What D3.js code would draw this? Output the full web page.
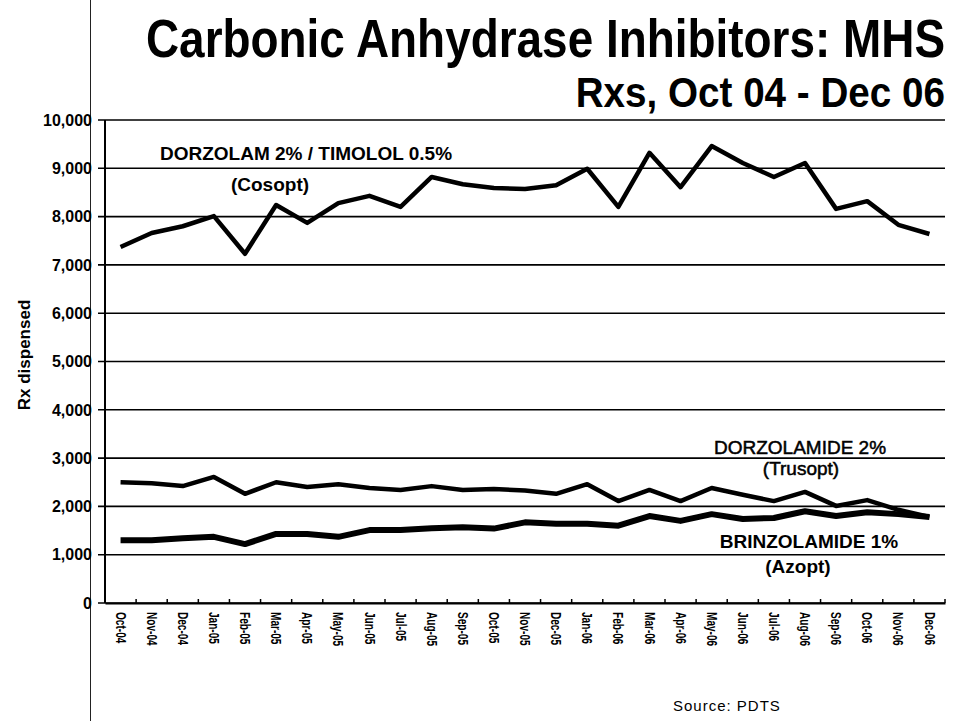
<!doctype html>
<html>
<head>
<meta charset="utf-8">
<script src="https://d3js.org/d3.v7.min.js"></script>
<style>
  body { margin: 0; background: #fff; }
  svg { display: block; font-family: "Liberation Sans", Arial, sans-serif; }
</style>
</head>
<body>
<svg id="chart"></svg>
<script>
    // months on the x axis
    var months = ["Oct-04", "Nov-04", "Dec-04", "Jan-05", "Feb-05", "Mar-05", "Apr-05", "May-05", "Jun-05",
        "Jul-05", "Aug-05", "Sep-05", "Oct-05", "Nov-05", "Dec-05", "Jan-06", "Feb-06", "Mar-06",
        "Apr-06", "May-06", "Jun-06", "Jul-06", "Aug-06", "Sep-06", "Oct-06", "Nov-06", "Dec-06"];

    // Rx dispensed per month
    var cosopt = [7370, 7660, 7800, 8010, 7230, 8240, 7870, 8280, 8430, 8200, 8820, 8670, 8590, 8570,
        8650, 8990, 8200, 9320, 8610, 9460, 9110, 8820, 9110, 8160, 8320, 7830, 7640];
    var trusopt = [2500, 2480, 2420, 2610, 2260, 2500, 2400, 2460, 2380, 2340, 2420, 2340, 2360, 2330,
        2260, 2460, 2110, 2340, 2110, 2380, 2240, 2110, 2300, 2010, 2130, 1930, 1780];
    var azopt = [1300, 1300, 1340, 1370, 1220, 1430, 1430, 1370, 1510, 1510, 1550, 1570, 1540, 1670,
        1640, 1640, 1600, 1800, 1700, 1840, 1740, 1760, 1900, 1800, 1880, 1840, 1780];

    var yTicks = [0, 1000, 2000, 3000, 4000, 5000, 6000, 7000, 8000, 9000, 10000];

    var W = 959, H = 721;
    var margin = { top: 120, right: 14, bottom: 118, left: 105 },
        width = W - margin.left - margin.right,
        height = H - margin.top - margin.bottom;

    var svg = d3.select("#chart").attr("width", W).attr("height", H);

    // page border on the left
    svg.append("line")
        .attr("x1", 90.5).attr("x2", 90.5)
        .attr("y1", 0).attr("y2", H)
        .attr("stroke", "#222").attr("stroke-width", 1);

    // titles: narrow bold face, squeezed horizontally
    svg.append("text")
        .attr("transform", "translate(945,57) scale(0.85,1)")
        .attr("text-anchor", "end")
        .attr("font-size", 54).attr("font-weight", "bold")
        .text("Carbonic Anhydrase Inhibitors: MHS");

    svg.append("text")
        .attr("transform", "translate(945,107) scale(0.92,1)")
        .attr("text-anchor", "end")
        .attr("font-size", 42).attr("font-weight", "bold")
        .text("Rxs, Oct 04 - Dec 06");

    var g = svg.append("g")
        .attr("transform", "translate(" + margin.left + "," + margin.top + ")");

    var x = d3.scaleBand().domain(months).range([0, width]);
    var y = d3.scaleLinear().domain([0, 10000]).range([height, 0]);

    // gridlines + y ticks
    g.selectAll(".grid")
        .data(yTicks)
        .enter().append("line")
        .attr("class", "grid")
        .attr("x1", -7).attr("x2", width)
        .attr("y1", function (d) { return y(d); })
        .attr("y2", function (d) { return y(d); })
        .attr("stroke", "#000").attr("stroke-width", 1.6);

    g.selectAll(".ylab")
        .data(yTicks)
        .enter().append("text")
        .attr("class", "ylab")
        .attr("x", -13)
        .attr("y", function (d) { return y(d); })
        .attr("dy", "0.36em")
        .attr("text-anchor", "end")
        .attr("font-size", 16).attr("font-weight", "bold")
        .text(function (d) { return d3.format(",")(d); });

    // axes lines
    g.append("line")
        .attr("x1", 0).attr("x2", 0).attr("y1", 0).attr("y2", height)
        .attr("stroke", "#000").attr("stroke-width", 2);

    var xAxis = d3.axisBottom(x).tickSize(0).tickFormat("");
    g.append("g")
        .attr("transform", "translate(0," + height + ")")
        .call(xAxis)
        .select(".domain").attr("stroke-width", 2);

    // little ticks between months, pointing up
    var bounds = months.map(function (m) { return x(m) + x.bandwidth(); });
    g.selectAll(".xtick")
        .data(bounds)
        .enter().append("line")
        .attr("x1", function (d) { return d; })
        .attr("x2", function (d) { return d; })
        .attr("y1", height).attr("y2", height - 4)
        .attr("stroke", "#000").attr("stroke-width", 1.5);

    g.selectAll(".xlab")
        .data(months)
        .enter().append("text")
        .attr("class", "xlab")
        .attr("transform", function (d) {
            return "translate(" + (x(d) + x.bandwidth() / 2) + "," + (height + 9) + ") rotate(90) scale(0.72,1)";
        })
        .attr("dy", "0.35em")
        .attr("font-size", 14).attr("font-weight", "bold")
        .text(function (d) { return d; });

    // series
    var line = d3.line()
        .x(function (d, i) { return x(months[i]) + x.bandwidth() / 2; })
        .y(function (d) { return y(d); });

    [[cosopt, 4.5], [trusopt, 4.5], [azopt, 6]].forEach(function (s) {
        g.append("path")
            .datum(s[0])
            .attr("fill", "none")
            .attr("stroke", "#000")
            .attr("stroke-width", s[1])
            .attr("stroke-linejoin", "round")
            .attr("d", line);
    });

    // series labels
    function label(txt, cx, cy, size, weight) {
        return svg.append("text")
            .attr("x", cx).attr("y", cy)
            .attr("text-anchor", "middle")
            .attr("font-size", size).attr("font-weight", weight)
            .text(txt);
    }
    label("DORZOLAM 2% / TIMOLOL 0.5%", 306, 160, 19, "bold");
    label("(Cosopt)", 270, 191, 19, "bold");
    label("DORZOLAMIDE 2%", 800, 454, 19, "normal").attr("stroke", "#000").attr("stroke-width", 0.5);
    label("(Trusopt)", 801, 475, 19, "normal").attr("stroke", "#000").attr("stroke-width", 0.5);
    label("BRINZOLAMIDE 1%", 809, 548, 19, "bold");
    label("(Azopt)", 798, 573, 19, "bold");

    // y axis title
    svg.append("text")
        .attr("transform", "translate(30,355) rotate(-90)")
        .attr("text-anchor", "middle")
        .attr("font-size", 17).attr("font-weight", "bold")
        .text("Rx dispensed");

    svg.append("text")
        .attr("x", 673).attr("y", 711)
        .attr("font-size", 15).attr("letter-spacing", 1)
        .text("Source:  PDTS");
</script>
</body>
</html>
